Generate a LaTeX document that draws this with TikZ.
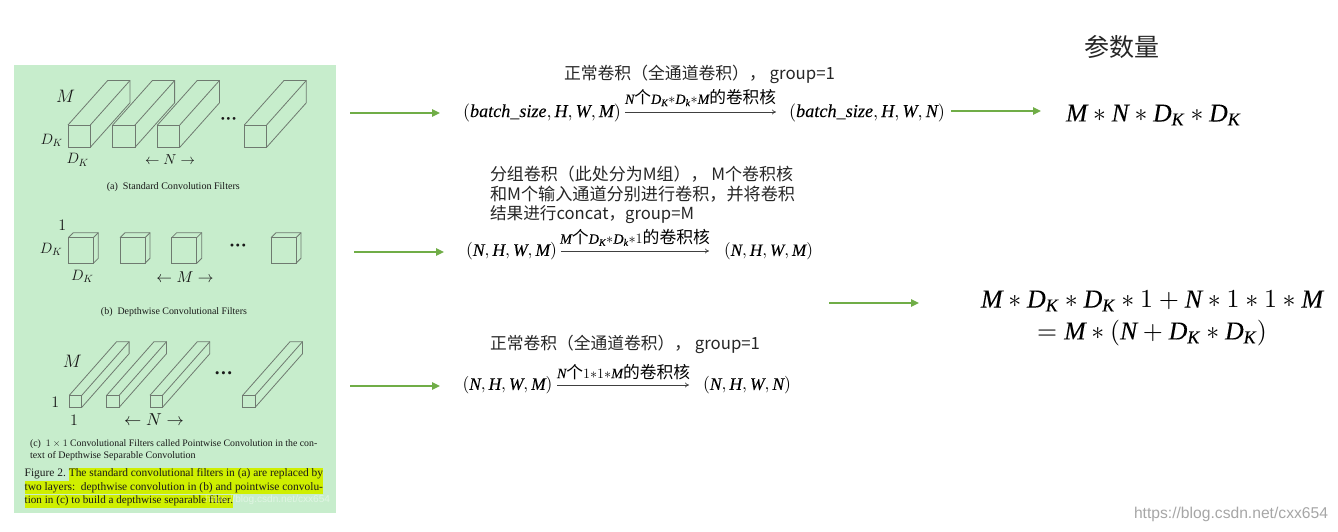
\documentclass[tikz,border=0pt]{standalone}
\usepackage{fix-cm}
\usepackage{amsmath,amssymb}
\usepackage{fontspec}
\setmainfont{Liberation Serif}
\newfontfamily\cjk{Noto Sans CJK SC}
\newfontfamily\wm{Liberation Sans}
\newfontfamily\mvf[NFSSFamily=mvf,FakeBold=0.08]{Liberation Serif Italic}
\DeclareSymbolFont{mvs}{TU}{mvf}{m}{n}
\DeclareMathSymbol{M}{\mathalpha}{mvs}{`M}
\DeclareMathSymbol{N}{\mathalpha}{mvs}{`N}
\DeclareMathSymbol{D}{\mathalpha}{mvs}{`D}
\DeclareMathSymbol{K}{\mathalpha}{mvs}{`K}
\DeclareMathSymbol{H}{\mathalpha}{mvs}{`H}
\DeclareMathSymbol{W}{\mathalpha}{mvs}{`W}
\DeclareMathSymbol{a}{\mathalpha}{mvs}{`a}
\DeclareMathSymbol{b}{\mathalpha}{mvs}{`b}
\DeclareMathSymbol{t}{\mathalpha}{mvs}{`t}
\DeclareMathSymbol{c}{\mathalpha}{mvs}{`c}
\DeclareMathSymbol{h}{\mathalpha}{mvs}{`h}
\DeclareMathSymbol{s}{\mathalpha}{mvs}{`s}
\DeclareMathSymbol{i}{\mathalpha}{mvs}{`i}
\DeclareMathSymbol{z}{\mathalpha}{mvs}{`z}
\DeclareMathSymbol{e}{\mathalpha}{mvs}{`e}
\DeclareMathSymbol{k}{\mathalpha}{mvs}{`k}
\usetikzlibrary{arrows.meta}
\definecolor{panel}{HTML}{C7EDCC}
\definecolor{hilite}{HTML}{CFEF00}
\definecolor{flow}{HTML}{70AD47}
\definecolor{edgegray}{HTML}{6F7A70}
\newcommand\fitw[2]{\resizebox{#1pt}{!}{#2}}
\newcommand\sz[1]{\fontsize{#1}{#1}\selectfont}
\newcommand\smm[1]{{\sz{14}$#1$}}
% x, top y, w, h, dx, dy
\newcommand\cuboid[6]{%
  \draw[boxline] (#1,#2) rectangle ++(#3,#4);
  \draw[boxline] (#1,#2) -- ++(#5,-#6) -- ++(#3,0) -- ++(0,#4) -- ++(-#5,#6);
  \draw[boxline] (#1+#3,#2) -- ++(#5,-#6);
}
\tikzset{
  boxline/.style={draw=edgegray,line width=0.8pt},
  flowarrow/.style={draw=flow,line width=1.6pt,-{Triangle[length=8pt,width=7.5pt]}},
  maparrow/.style={draw=black!75,line width=0.7pt,-{To[length=4pt,width=5pt]}},
  lbl/.style={inner sep=0pt,outer sep=0pt,anchor=center},
  lft/.style={inner sep=0pt,outer sep=0pt,anchor=west},
  capt/.style={lft,text=black!85,font=\cjk\sz{16.5}},
  paper/.style={lbl,text=black!90},
}
\begin{document}
\begin{tikzpicture}[x=1pt,y=-1pt]
\useasboundingbox (0,0) rectangle (1338,532);
\fill[panel] (14,65) rectangle (336,513);
% highlights
\fill[hilite] (69.3,467.5) rectangle (323,480.5);
\fill[hilite] (24.7,481) rectangle (323,494);
\fill[hilite] (24.7,494.5) rectangle (233,507.5);
% (a)
\foreach \x in {68,112.7,157.5,244.3}{\cuboid{\x}{125}{22.3}{22.3}{39.6}{44.4}}
\node[paper] (am) at (65.5,96.7) {\sz{18}$\mathnormal{M}$};
\node[paper] (ad1) at (51.7,140) {\sz{15}$\mathnormal{D_K}$};
\node[paper] (ad2) at (77.7,160) {\sz{15}$\mathnormal{D_K}$};
\node[paper] (an) at (170,160) {\fitw{50}{$\leftarrow\mathnormal{N}\rightarrow$}};
\node[paper] (adots) at (228.5,121.5) {\fitw{17}{\bfseries ···}};
\node[paper] (acap) at (173.3,186.7) {\fitw{133}{(a)\ \ Standard Convolution Filters}};
% (b)
\foreach \x in {68.3,120,171.7,271}{\cuboid{\x}{237.7}{25}{25.6}{5}{5}}
\node[paper] (b1) at (62.3,225.7) {\sz{16}$1$};
\node[paper] (bd1) at (51,249.3) {\sz{15}$\mathnormal{D_K}$};
\node[paper] (bd2) at (82.3,276.7) {\sz{15}$\mathnormal{D_K}$};
\node[paper] (bm) at (185,277) {\fitw{57}{$\leftarrow\mathnormal{M}\rightarrow$}};
\node[paper] (bdots) at (238,248) {\fitw{18}{\bfseries ···}};
\node[paper] (bcap) at (174,311.7) {\fitw{146}{(b)\ \ Depthwise Convolutional Filters}};
% (c)
\foreach \x in {69.3,106.7,150,242.7}{\cuboid{\x}{395.3}{12.5}{12}{47.3}{53.6}}
\node[paper] (cm) at (72.3,361) {\sz{18}$\mathnormal{M}$};
\node[paper] (c1) at (55.3,402) {\sz{16}$1$};
\node[paper] (c2) at (74,420) {\sz{16}$1$};
\node[paper] (cn) at (154,420) {\fitw{60}{$\leftarrow\mathnormal{N}\rightarrow$}};
\node[paper] (cdots) at (223.5,376) {\fitw{19}{\bfseries ···}};
\node[paper,lft] (ccap1) at (30,444) {\fitw{287.3}{(c)\ \ $1\times1$ Convolutional Filters called Pointwise Convolution in the con-}};
\node[paper,lft] (ccap2) at (30,456) {\fitw{165.7}{text of Depthwise Separable Convolution}};
\node[paper,lft] (fig1) at (24.7,473.7) {\fitw{298.3}{Figure 2.\ The standard convolutional filters in (a) are replaced by}};
\node[paper,lft] (fig2) at (24.7,487.7) {\fitw{298.3}{two layers:\ \ depthwise convolution in (b) and pointwise convolu-}};
\node[paper,lft] (fig3) at (24.7,501) {\fitw{208.3}{tion in (c) to build a depthwise separable filter.}};
\node[lft,text=white,opacity=.45] (wm1) at (205,500) {\wm\fitw{125}{https://blog.csdn.net/cxx654}};
% green arrows
\coordinate (g1a) at (350,113); \coordinate (g1b) at (440,113);
\coordinate (g2a) at (354,252); \coordinate (g2b) at (444,252);
\coordinate (g3a) at (350,386); \coordinate (g3b) at (440,386);
\coordinate (g4a) at (951,111); \coordinate (g4b) at (1041,111);
\coordinate (g5a) at (829,303); \coordinate (g5b) at (919,303);
\draw[flowarrow] (g1a) -- (g1b);
\draw[flowarrow] (g2a) -- (g2b);
\draw[flowarrow] (g3a) -- (g3b);
\draw[flowarrow] (g4a) -- (g4b);
\draw[flowarrow] (g5a) -- (g5b);
% row 1
\node[capt] (t1) at (564,74) {\fitw{271}{正常卷积（全通道卷积）， group=1}};
\node[lft] (r1l) at (463,112.5) {\fitw{158}{$(batch\_size,H,W,M)$}};
\node[lft] (r1r) at (789,112.5) {\fitw{156}{$(batch\_size,H,W,N)$}};
\coordinate (m1a) at (625,112); \coordinate (m1b) at (776,112);
\draw[maparrow] (m1a) -- (m1b);
\node[lft] (l1) at (625,98) {\fitw{151}{\cjk\sz{16.5}\smm{N}个\smm{D_K{*}D_k{*}M}的卷积核}};
% row 2
\node[capt] (t2a) at (490,174) {\fitw{303}{分组卷积（此处分为M组）， M个卷积核}};
\node[capt] (t2b) at (490,194.5) {\fitw{305}{和M个输入通道分别进行卷积，并将卷积}};
\node[capt] (t2c) at (490,215) {\fitw{204}{结果进行concat，group=M}};
\node[lft] (r2l) at (466,251.5) {\fitw{91}{$(N,H,W,M)$}};
\node[lft] (r2r) at (724,251.5) {\fitw{89}{$(N,H,W,M)$}};
\coordinate (m2a) at (561,251); \coordinate (m2b) at (709,251);
\draw[maparrow] (m2a) -- (m2b);
\node[lft] (l2) at (560,237.7) {\fitw{150}{\cjk\sz{16.5}\smm{M}个\smm{D_K{*}D_k{*}1}的卷积核}};
% row 3
\node[capt] (t3) at (490,344) {\fitw{270}{正常卷积（全通道卷积）， group=1}};
\node[lft] (r3l) at (462.5,385.5) {\fitw{90}{$(N,H,W,M)$}};
\node[lft] (r3r) at (703,385.5) {\fitw{88}{$(N,H,W,N)$}};
\coordinate (m3a) at (557,385); \coordinate (m3b) at (689,385);
\draw[maparrow] (m3a) -- (m3b);
\node[lft] (l3) at (557,371.7) {\fitw{133}{\cjk\sz{16.5}\smm{N}个\smm{1{*}1{*}M}的卷积核}};
% right column
\node[lbl,text=black!85,font=\cjk\sz{25}] (title) at (1122,47) {参数量};
\node[lft] (f1) at (1066,115) {\fitw{175}{$M*N*D_K*D_K$}};
\node[lbl] (f2) at (1152,301) {\fitw{342}{$M*D_K*D_K*1+N*1*1*M$}};
\node[lbl] (f3) at (1152,333) {\fitw{230}{$=M*(N+D_K*D_K)$}};
\node[lft,text=black!35] (wm2) at (1134,514) {\wm\fitw{194}{https://blog.csdn.net/cxx654}};
\end{tikzpicture}
\end{document}
